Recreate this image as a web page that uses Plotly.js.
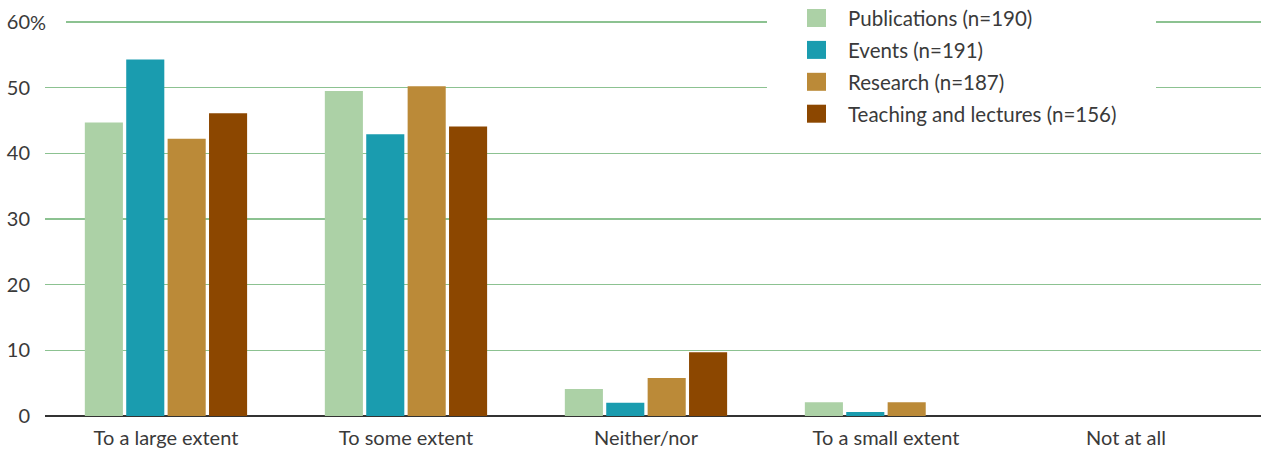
<!DOCTYPE html>
<html><head><meta charset="utf-8">
<script src="https://cdn.plot.ly/plotly-3.0.1.min.js"></script>
<style>html,body{margin:0;padding:0;background:#fff}#chart{width:1261px;height:454px}</style>
</head><body><div id="chart"></div>
<script>
const categories = ["To a large extent","To some extent","Neither/nor","To a small extent","Not at all"];
const seriesNames = ["Publications (n=190)","Events (n=191)","Research (n=187)","Teaching and lectures (n=156)"];
const publications = [44.7, 49.5, 4.1, 2.1, 0];
const events = [54.3, 42.9, 2.0, 0.6, 0];
const research = [42.2, 50.2, 5.8, 2.1, 0];
const teaching = [46.1, 44.1, 9.7, 0, 0];
const yTickVals = [0,10,20,30,40,50,60];
const yTickText = ["0","10","20","30","40","50","60"];
const colors = ["#acd1a6","#1a9caf","#bb8a38","#8c4700"];

const seriesValues = [publications, events, research, teaching];
const FONT = "Lato, Open Sans, sans-serif";
const FS = 20;
const LFS = 20.5;
const TXT = "#3a3a3a";

const traces = seriesValues.map((vals, i) => ({
  type: "bar", x: categories, y: vals, name: seriesNames[i],
  marker: {color: colors[i], line: {width: 0}}, showlegend: false, hoverinfo: "x+y+name"
}));

// pixel -> paper helpers (plot area: x 45..1261, y 19..416)
const L = 45, W = 1216, B = 416, H = 397;
const px = x => (x - L) / W;
const py = y => (B - y) / H;

const shapes = [
  {type: "rect", xref: "paper", yref: "paper", x0: px(767), x1: px(1156), y0: py(135), y1: py(0),
   fillcolor: "#ffffff", line: {width: 0}, layer: "above"},
  {type: "rect", xref: "paper", yref: "paper", x0: px(44), x1: px(66), y0: py(26), y1: py(18),
   fillcolor: "#ffffff", line: {width: 0}, layer: "above"}
];
const annotations = [
  {xref: "paper", yref: "y", x: px(29), y: yTickVals[yTickVals.length - 1], xanchor: "left", yanchor: "middle",
   text: "%", showarrow: false, borderpad: 0, font: {family: FONT, size: FS, color: TXT}}
];
seriesNames.forEach((n, i) => {
  const cy = 18 + i * 31.9;
  shapes.push({type: "rect", xref: "paper", yref: "paper", x0: px(807), x1: px(826), y0: py(cy + 9), y1: py(cy - 9),
    fillcolor: colors[i], line: {width: 0}, layer: "above"});
  annotations.push({xref: "paper", yref: "paper", x: px(846), y: py(cy), xanchor: "left", yanchor: "middle",
    text: n, showarrow: false, font: {family: FONT, size: LFS, color: TXT}});
});

const layout = {
  width: 1261, height: 454,
  margin: {l: L, r: 0, t: 19, b: 38, pad: 0},
  paper_bgcolor: "#fff", plot_bgcolor: "#fff",
  font: {family: FONT, size: FS, color: TXT},
  barmode: "group", bargap: 0.31, bargroupgap: 0.08,
  showlegend: false,
  xaxis: {type: "category", range: [-0.504, 4.5625], showgrid: false, zeroline: false,
    showline: false, ticks: "", ticklabelstandoff: 8, tickfont: {family: FONT, size: FS, color: TXT}, fixedrange: true},
  yaxis: {range: [0, 60.45], tickvals: yTickVals, ticktext: yTickText, showgrid: true,
    gridcolor: "#8cc291", gridwidth: 1.5, zeroline: true, zerolinecolor: "#333333", zerolinewidth: 2,
    showline: false, ticks: "", ticklabelstandoff: 14, tickfont: {family: FONT, size: FS, color: TXT}, fixedrange: true},
  shapes: shapes, annotations: annotations
};
Plotly.newPlot("chart", traces, layout, {displayModeBar: false, staticPlot: true});
</script></body></html>
